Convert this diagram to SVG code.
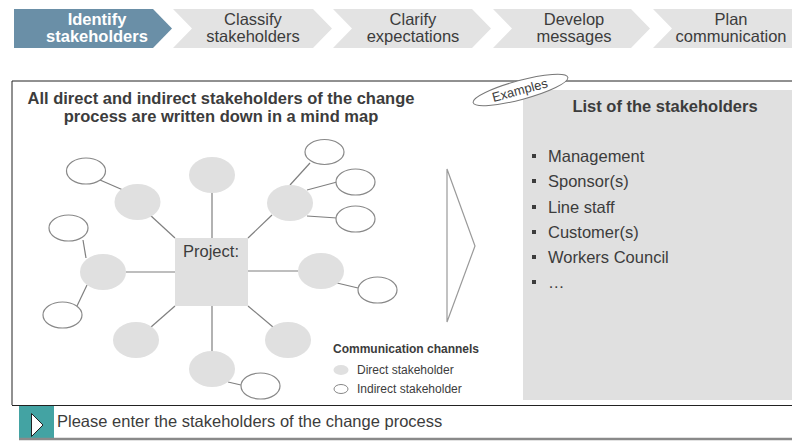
<svg xmlns="http://www.w3.org/2000/svg" width="792" height="441" viewBox="0 0 792 441">
<style>
text{font-family:"Liberation Sans",Arial,sans-serif;fill:#3c3c3c}
.chv{fill:#e3e3e3}
.chvt{font-size:16.5px;text-anchor:middle}
.lnk{stroke:#7f7f7f;stroke-width:1.2;fill:none}
.dir{fill:#e0e0e0}
.ind{fill:#fff;stroke:#888;stroke-width:1.2}
.li{font-size:16.5px}
.bul{fill:#3c3c3c}
</style>
<rect width="792" height="441" fill="#fff"/>
<!-- process chevrons -->
<g id="step1"><polygon points="14,9 153,9 172,28.5 153,48 14,48" fill="#6a8fa7"/><text class="chvt" x="97" y="25" style="fill:#fff;font-weight:bold">Identify</text><text class="chvt" x="97" y="42" style="fill:#fff;font-weight:bold">stakeholders</text></g>
<g id="step2"><polygon class="chv" points="173,9 313,9 332,28.5 313,48 173,48 192,28.5"/><text class="chvt" x="253" y="25">Classify</text><text class="chvt" x="253" y="42">stakeholders</text></g>
<g id="step3"><polygon class="chv" points="333,9 472,9 491,28.5 472,48 333,48 352,28.5"/><text class="chvt" x="413" y="25">Clarify</text><text class="chvt" x="413" y="42">expectations</text></g>
<g id="step4"><polygon class="chv" points="493,9 631,9 650,28.5 631,48 493,48 512,28.5"/><text class="chvt" x="574" y="25">Develop</text><text class="chvt" x="574" y="42">messages</text></g>
<g id="step5"><polygon class="chv" points="653,9 792,9 792,48 653,48 672,28.5"/><text class="chvt" x="731" y="25">Plan</text><text class="chvt" x="731" y="42">communication</text></g>
<!-- frame -->
<line x1="12" y1="81" x2="792" y2="81" stroke="#222" stroke-width="1"/>
<line x1="12" y1="81" x2="12" y2="405" stroke="#222" stroke-width="1"/>
<line x1="12" y1="405.5" x2="792" y2="405.5" stroke="#222" stroke-width="1"/>
<g id="title"><text x="221" y="104" text-anchor="middle" style="font-size:16.5px;font-weight:bold">All direct and indirect stakeholders of the change</text><text x="221" y="122" text-anchor="middle" style="font-size:16.5px;font-weight:bold">process are written down in a mind map</text></g>
<!-- list panel -->
<g id="list"><rect x="523" y="90" width="269" height="310" fill="#e0e0e0"/>
<text x="665" y="112" text-anchor="middle" style="font-size:16.5px;font-weight:bold">List of the stakeholders</text>
<rect class="bul" x="532" y="154" width="4" height="4"/><text class="li" x="548" y="162">Management</text>
<rect class="bul" x="532" y="179" width="4" height="4"/><text class="li" x="548" y="187">Sponsor(s)</text>
<rect class="bul" x="532" y="205" width="4" height="4"/><text class="li" x="548" y="212.5">Line staff</text>
<rect class="bul" x="532" y="230" width="4" height="4"/><text class="li" x="548" y="238">Customer(s)</text>
<rect class="bul" x="532" y="255" width="4" height="4"/><text class="li" x="548" y="263">Workers Council</text>
<rect class="bul" x="532" y="280" width="4" height="4"/><text class="li" x="548" y="288">…</text>
</g>
<g id="examples"><ellipse cx="520.5" cy="90" rx="49" ry="9.5" transform="rotate(-15 520.5 90)" fill="#fff" stroke="#777" stroke-width="1"/><text x="521" y="94.5" text-anchor="middle" transform="rotate(-15 521 94.5)" style="font-size:13px">Examples</text></g>
<!-- big arrow -->
<g id="arrow"><polygon points="447,169 475,246 447,322" fill="#fff" stroke="#9a9a9a" stroke-width="1.2"/></g>
<!-- connectors -->
<g id="connectors" class="lnk">
<line x1="212" y1="193" x2="212" y2="238"/>
<line x1="150" y1="215" x2="175" y2="238"/>
<line x1="272" y1="215" x2="248" y2="238"/>
<line x1="126" y1="272" x2="175" y2="272"/>
<line x1="248" y1="271" x2="298" y2="271"/>
<line x1="175" y1="306" x2="151" y2="327"/>
<line x1="248" y1="306" x2="273" y2="327"/>
<line x1="212" y1="306" x2="212" y2="351"/>
<line x1="100" y1="180" x2="123" y2="190"/>
<line x1="290" y1="185" x2="310" y2="163"/>
<line x1="307" y1="190" x2="337" y2="182"/>
<line x1="307" y1="216" x2="337" y2="218"/>
<line x1="83" y1="240" x2="86" y2="258"/>
<line x1="87" y1="285" x2="77" y2="306"/>
<line x1="337" y1="283" x2="358" y2="288"/>
<line x1="228" y1="382" x2="241" y2="385"/>
</g>
<!-- nodes -->
<g id="project"><rect x="175" y="238" width="73" height="68" fill="#e0e0e0"/><text x="211" y="257" text-anchor="middle" style="font-size:16.5px">Project:</text></g>
<g id="d-top"><ellipse class="dir" cx="212" cy="175" rx="23" ry="18"/></g>
<g id="d-topleft"><ellipse class="dir" cx="137.5" cy="202" rx="23" ry="18"/></g>
<g id="d-topright"><ellipse class="dir" cx="290" cy="203" rx="23" ry="18"/></g>
<g id="d-left"><ellipse class="dir" cx="103" cy="272" rx="23" ry="18"/></g>
<g id="d-right"><ellipse class="dir" cx="321" cy="271" rx="23" ry="18"/></g>
<g id="d-botleft"><ellipse class="dir" cx="136" cy="340" rx="23" ry="18"/></g>
<g id="d-botright"><ellipse class="dir" cx="288" cy="340" rx="23" ry="18"/></g>
<g id="d-bottom"><ellipse class="dir" cx="212" cy="369" rx="23" ry="18"/></g>
<g id="i-topleft"><ellipse class="ind" cx="86" cy="171" rx="19.5" ry="13"/></g>
<g id="i-tr1"><ellipse class="ind" cx="324.5" cy="152" rx="19.5" ry="12.5"/></g>
<g id="i-tr2"><ellipse class="ind" cx="355.5" cy="182" rx="19.5" ry="13"/></g>
<g id="i-tr3"><ellipse class="ind" cx="355.5" cy="219" rx="19.5" ry="13"/></g>
<g id="i-left1"><ellipse class="ind" cx="68.5" cy="228" rx="19.5" ry="13"/></g>
<g id="i-left2"><ellipse class="ind" cx="62.5" cy="315" rx="19.5" ry="13"/></g>
<g id="i-right"><ellipse class="ind" cx="377.5" cy="290" rx="19.5" ry="13"/></g>
<g id="i-bottom"><ellipse class="ind" cx="260.5" cy="386" rx="19.5" ry="13"/></g>
<!-- legend -->
<g id="legend">
<text x="333" y="353" style="font-size:12px;font-weight:bold">Communication channels</text>
<ellipse cx="341" cy="370" rx="7.5" ry="5" fill="#e0e0e0"/>
<text x="357" y="374" style="font-size:12px">Direct stakeholder</text>
<ellipse cx="341" cy="389" rx="7" ry="4.5" fill="#fff" stroke="#888" stroke-width="1"/>
<text x="357" y="393" style="font-size:12px">Indirect stakeholder</text>
</g>
<!-- bottom bar -->
<g id="prompt">
<rect x="19" y="406" width="35" height="34" fill="#43a3a3"/>
<polygon points="31.5,413.5 43,425 31.5,436.5" fill="#fff" stroke="#222" stroke-width="1"/>
<line x1="19" y1="439" x2="792" y2="439" stroke="#8a8a8a" stroke-width="2.5"/>
<text x="57" y="427" style="font-size:16.5px">Please enter the stakeholders of the change process</text>
</g>
</svg>
